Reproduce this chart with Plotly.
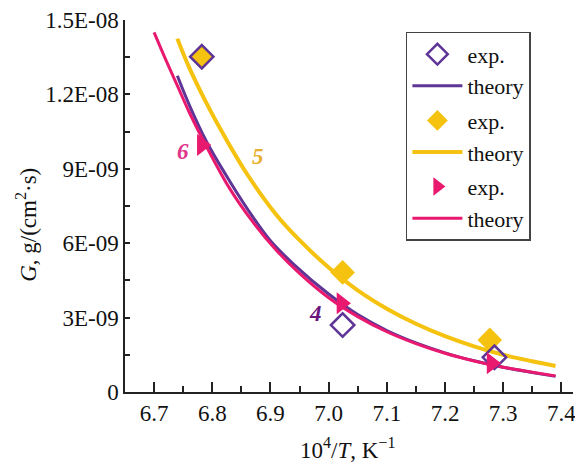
import plotly.graph_objects as go

# ---- data ----
# experimental points (x = 10^4/T, y = G in units of 1e-9 g/(cm2 s))
exp4_x = [6.782, 7.024, 7.285]
exp4_y = [13.52, 2.70, 1.40]
exp5_x = [6.782, 7.024, 7.277]
exp5_y = [13.52, 4.82, 2.10]
exp6_x = [6.782, 7.022, 7.280]
exp6_y = [9.96, 3.58, 1.16]

# theory curves
th4_x = [6.74, 6.76, 6.79, 6.83, 6.87, 6.90, 6.94, 7.00, 7.05, 7.10, 7.15, 7.20, 7.25, 7.30, 7.35, 7.39]
th4_y = [12.75, 11.6, 10.1, 8.5, 7.05, 6.1, 5.15, 3.95, 3.12, 2.48, 1.98, 1.58, 1.26, 1.0, 0.79, 0.63]
th5_x = [6.74, 6.76, 6.79, 6.82, 6.86, 6.91, 6.95, 7.00, 7.05, 7.10, 7.15, 7.20, 7.25, 7.30, 7.35, 7.39]
th5_y = [14.25, 13.1, 11.65, 10.35, 8.78, 7.15, 6.12, 5.02, 4.1, 3.36, 2.75, 2.25, 1.84, 1.5, 1.24, 1.05]
th6_x = [6.70, 6.72, 6.74, 6.76, 6.79, 6.83, 6.87, 6.91, 6.95, 7.00, 7.05, 7.10, 7.15, 7.20, 7.25, 7.30, 7.35, 7.39]
th6_y = [14.5, 13.4, 12.35, 11.3, 9.9, 8.2, 6.85, 5.72, 4.78, 3.8, 3.04, 2.43, 1.95, 1.56, 1.25, 1.0, 0.8, 0.65]

scale = 1e-9
y_tickvals = [0, 3e-9, 6e-9, 9e-9, 1.2e-8, 1.5e-8]
y_ticktext = ["0", "3E-09", "6E-09", "9E-09", "1.2E-08", "1.5E-08"]
x_tickvals = [6.7, 6.8, 6.9, 7.0, 7.1, 7.2, 7.3, 7.4]
x_ticktext = ["6.7", "6.8", "6.9", "7.0", "7.1", "7.2", "7.3", "7.4"]

PURPLE = "#5E3496"
YELLOW = "#F5C20F"
PINK = "#E8196F"
FONT = "Liberation Serif"
TICKSIZE = 23


def sc(v):
    return [a * scale for a in v]


fig = go.Figure()

# theory curves
fig.add_trace(go.Scatter(x=th4_x, y=sc(th4_y), mode="lines", line=dict(color=PURPLE, width=3, shape="spline"),
                         name="theory", legendgroup="4", legendrank=2))
fig.add_trace(go.Scatter(x=th5_x, y=sc(th5_y), mode="lines", line=dict(color=YELLOW, width=4, shape="spline"),
                         name="theory", legendgroup="5", legendrank=4))
fig.add_trace(go.Scatter(x=th6_x, y=sc(th6_y), mode="lines", line=dict(color=PINK, width=3, shape="spline"),
                         name="theory", legendgroup="6", legendrank=6))

# experimental points
fig.add_trace(go.Scatter(x=exp5_x, y=sc(exp5_y), mode="markers",
                         marker=dict(symbol="diamond", size=19, color=YELLOW, line=dict(width=0)),
                         name="exp.", legendgroup="5", legendrank=3))
fig.add_trace(go.Scatter(x=exp4_x, y=sc(exp4_y), mode="markers",
                         marker=dict(symbol="diamond-open", size=18, color=PURPLE, line=dict(width=2.5)),
                         name="exp.", legendgroup="4", legendrank=1))
fig.add_trace(go.Scatter(x=exp6_x, y=sc(exp6_y), mode="markers",
                         marker=dict(symbol="triangle-right", size=19, color=PINK, line=dict(width=0)),
                         name="exp.", legendgroup="6", legendrank=5))

ann = [
    dict(x=6.750, y=9.69e-9, text="<b><i>6</i></b>", font=dict(color="#E0338A", size=23, family=FONT)),
    dict(x=6.879, y=9.49e-9, text="<b><i>5</i></b>", font=dict(color="#E8B030", size=23, family=FONT)),
    dict(x=6.977, y=3.17e-9, text="<b><i>4</i></b>", font=dict(color="#6B1480", size=23, family=FONT)),
]
for a in ann:
    a.update(xref="x", yref="y", showarrow=False, xanchor="center", yanchor="middle")

ann.append(dict(x=-0.219, y=0.449, xref="paper", yref="paper", showarrow=False, textangle=-90,
                xanchor="center", yanchor="middle",
                text="<i>G</i>, g/(cm<sup>2</sup>·s)", font=dict(size=23, family=FONT, color="#111")))
ann.append(dict(x=0.496, y=-0.152, xref="paper", yref="paper", showarrow=False,
                xanchor="center", yanchor="middle",
                text="10<sup>4</sup>/<i>T</i>, K<sup>−1</sup>", font=dict(size=23, family=FONT, color="#111")))

fig.update_layout(
    width=575, height=463,
    margin=dict(l=125, r=2, t=20, b=71, autoexpand=False),
    paper_bgcolor="white", plot_bgcolor="white",
    font=dict(family=FONT, size=TICKSIZE, color="#111"),
    showlegend=True,
    legend=dict(x=0.627, y=0.968, xanchor="left", yanchor="top", bgcolor="white",
                bordercolor="#444", borderwidth=1.5, font=dict(size=22, family=FONT),
                tracegroupgap=3, traceorder="grouped", itemwidth=50),
    annotations=ann,
    xaxis=dict(range=[6.65, 7.42], tickvals=x_tickvals, ticktext=x_ticktext, automargin=False,
               ticklabeloverflow="allow", tickfont=dict(size=TICKSIZE),
               showgrid=False, zeroline=False, showline=True, linecolor="#222", linewidth=1.5,
               ticks="inside", ticklen=10, tickwidth=1.5, tickcolor="#222",
               minor=dict(dtick=0.05, tick0=6.65, ticks="inside", ticklen=6, tickwidth=1.5, tickcolor="#222", showgrid=False)),
    yaxis=dict(range=[0, 1.5e-8], tickvals=y_tickvals, ticktext=y_ticktext, automargin=False,
               ticklabeloverflow="allow", tickfont=dict(size=TICKSIZE),
               showgrid=False, zeroline=False, showline=True, linecolor="#222", linewidth=1.5,
               ticks="inside", ticklen=5, tickwidth=1.5, tickcolor="#222",
               minor=dict(dtick=1.5e-9, tick0=0, ticks="inside", ticklen=5, tickwidth=1.5, tickcolor="#222", showgrid=False)),
)

fig.write_html("out.html", config={"displayModeBar": False},
               post_script="document.body.style.margin='0';document.body.style.overflow='hidden';")
